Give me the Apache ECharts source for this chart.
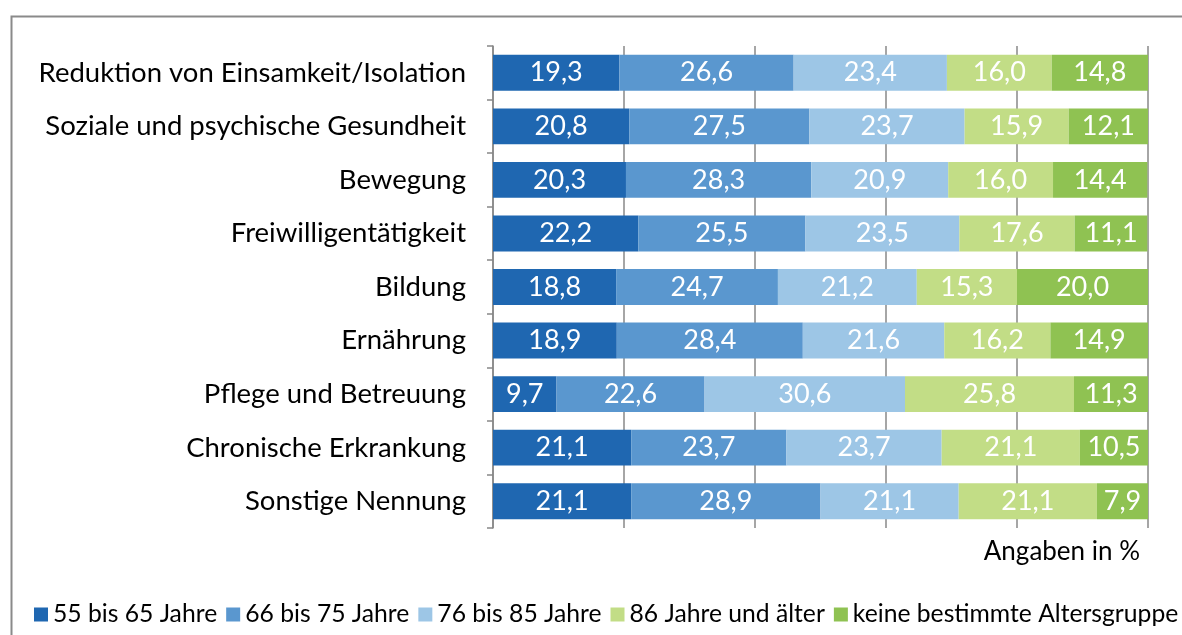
<!DOCTYPE html>
<html>
<head>
<meta charset="utf-8">
<script src="https://cdn.jsdelivr.net/npm/echarts@6/dist/echarts.min.js"></script>
<style>
html,body{margin:0;padding:0;background:#fff;}
#chart{width:1182px;height:635px;}
</style>
</head>
<body>
<div id="chart"></div>
<script>
var categories = [
  'Reduktion von Einsamkeit/Isolation',
  'Soziale und psychische Gesundheit',
  'Bewegung',
  'Freiwilligentätigkeit',
  'Bildung',
  'Ernährung',
  'Pflege und Betreuung',
  'Chronische Erkrankung',
  'Sonstige Nennung'
];
var seriesNames = ['55 bis 65 Jahre', '66 bis 75 Jahre', '76 bis 85 Jahre', '86 Jahre und älter', 'keine bestimmte Altersgruppe'];
var age55to65 = [19.3, 20.8, 20.3, 22.2, 18.8, 18.9, 9.7, 21.1, 21.1];
var age66to75 = [26.6, 27.5, 28.3, 25.5, 24.7, 28.4, 22.6, 23.7, 28.9];
var age76to85 = [23.4, 23.7, 20.9, 23.5, 21.2, 21.6, 30.6, 23.7, 21.1];
var age86plus = [16.0, 15.9, 16.0, 17.6, 15.3, 16.2, 25.8, 21.1, 21.1];
var noAgeGroup = [14.8, 12.1, 14.4, 11.1, 20.0, 14.9, 11.3, 10.5, 7.9];
var unitLabel = 'Angaben in %';

var colors = ['#1F67B1', '#5A97CF', '#9DC6E6', '#C2DD86', '#8FC252'];
var FONT = 'Lato';
var allData = [age55to65, age66to75, age76to85, age86plus, noAgeGroup];

var chart = echarts.init(document.getElementById('chart'));
var series = allData.map(function (d, i) {
  return {
    name: seriesNames[i],
    type: 'bar',
    stack: 'total',
    data: d,
    barWidth: '67%',
    itemStyle: { color: colors[i] },
    label: {
      show: true,
      position: 'inside',
      color: '#fff',
      fontFamily: FONT,
      fontSize: 27,
      formatter: function (p) { return p.value.toFixed(1).replace('.', ','); }
    }
  };
});

chart.setOption({
  animation: false,
  color: colors,
  graphic: [
    { type: 'rect', left: 9, top: 14, shape: { width: 1400, height: 800 }, style: { fill: 'none', stroke: '#8a8a8a', lineWidth: 2 }, z: 0, silent: true },
    { type: 'text', right: 42, top: 539, style: { text: unitLabel, fontFamily: FONT, fontSize: 26, fill: '#000' } }
  ],
  grid: { left: 493, right: 34, top: 46, height: 482, containLabel: false },
  xAxis: {
    type: 'value',
    min: 0, max: 100, interval: 20,
    axisLine: { show: false },
    axisTick: { show: false },
    axisLabel: { show: false },
    splitLine: { show: true, lineStyle: { color: '#888', width: 1.5 } }
  },
  yAxis: {
    type: 'category',
    data: categories,
    inverse: true,
    axisLine: { show: true, lineStyle: { color: '#888', width: 1.5 } },
    axisTick: { show: true, length: 6, lineStyle: { color: '#888', width: 1.5 } },
    axisLabel: { color: '#000', fontFamily: FONT, fontSize: 27.5, margin: 27 }
  },
  legend: {
    left: 29, top: 597,
    width: 1500,
    itemWidth: 14, itemHeight: 14, itemGap: 9,
    icon: 'rect',
    textStyle: { color: '#000', fontFamily: FONT, fontSize: 24.7, padding: [0, 0, 0, 0] },
    data: seriesNames
  },
  series: series
});
</script>
</body>
</html>
